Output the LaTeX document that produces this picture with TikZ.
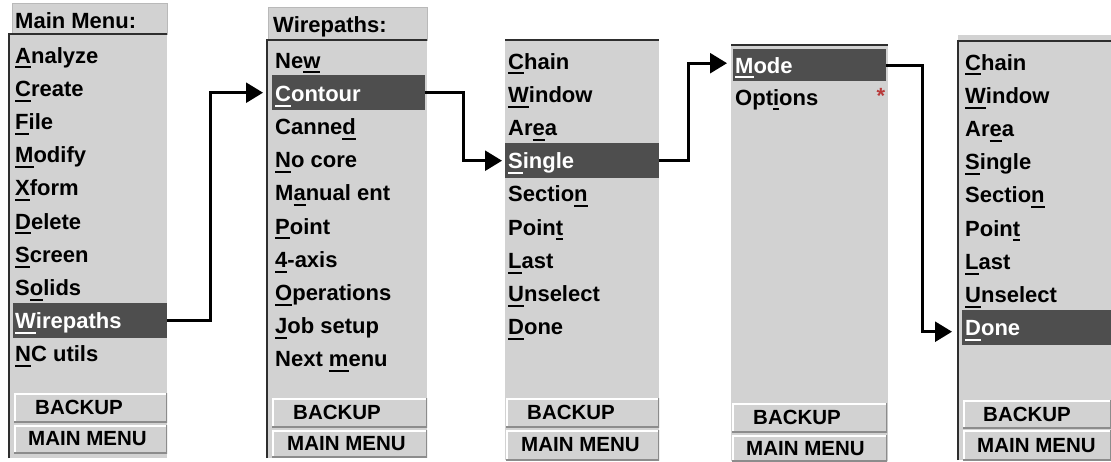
\documentclass[tikz,border=0pt]{standalone}
\usepackage{fontspec}
\setmainfont{Liberation Sans}
\usetikzlibrary{arrows.meta}
\definecolor{panel}{HTML}{D2D2D2}
\definecolor{hlc}{HTML}{4E4E4E}
\definecolor{edgec}{HTML}{2E2E2E}
\definecolor{bevdark}{HTML}{8C8C8C}
\definecolor{starc}{HTML}{B83A3A}
\newcommand\uln[1]{\setbox0\hbox{#1}\rlap{\rule[-5.4pt]{\wd0}{2.1pt}}\box0}
\begin{document}
\begin{tikzpicture}[x=1pt,y=-1pt,
  itm/.style={anchor=base west, inner sep=0pt, font=\bfseries\fontsize{22}{22}\selectfont, text=black},
  hitm/.style={itm, text=white},
  hl/.style={fill=hlc, draw=none, anchor=north west, inner sep=0pt},
  hdr/.style={fill=panel, draw=gray!55, line width=0.8pt, anchor=north west, inner sep=0pt},
  edgeline/.style={draw=edgec, line width=2.4pt},
  btn/.style={anchor=north west, inner sep=0pt, fill=panel,
    path picture={
      \draw[white, line width=3pt] (path picture bounding box.south west) -- (path picture bounding box.north west) -- (path picture bounding box.north east);
      \draw[bevdark, line width=3pt] (path picture bounding box.south west) -- (path picture bounding box.south east) -- (path picture bounding box.north east);}},
  btntxt/.style={anchor=base west, inner sep=0pt, font=\bfseries\fontsize{20.5}{20.5}\selectfont},
  link/.style={draw=black, line width=2.6pt, -{Triangle[length=17pt,width=20pt]}}
]
\useasboundingbox[fill=white] (0,0) rectangle (1111,461);

% ---------------- Menu 1
\fill[panel] (9,34) rectangle (167,458);
\node[hdr, minimum width=155, minimum height=31] (m1h) at (12,3) {};
\node[itm] (m1ht) at (15,28) {Main Menu:};
\draw[edgeline] (9,458) -- (9,34) -- (167,34);
\node[hl, minimum width=154, minimum height=35] (m1wire) at (13,303) {};
\foreach \i/\t in {0/{\uln{A}nalyze},1/{\uln{C}reate},2/{\uln{F}ile},3/{\uln{M}odify},4/{\uln{X}form},5/{\uln{D}elete},6/{\uln{S}creen},7/{S\uln{o}lids},9/{\uln{N}C utils}}
  \node[itm] (m1i\i) at (15,{63+33.2*\i}) {\t};
\node[hitm] (m1i8) at (15,{63+33.2*8}) {\uln{W}irepaths};
\node[btn, minimum width=153, minimum height=29] (m1b1) at (14,393) {};
\node[btn, minimum width=153, minimum height=28] (m1b2) at (14,425) {};
\node[btntxt] (m1b1t) at (35,414) {BACKUP};
\node[btntxt] (m1b2t) at (28,445) {MAIN MENU};

% ---------------- Menu 2
\fill[panel] (267,40) rectangle (427,458);
\node[hdr, minimum width=159, minimum height=33] (m2h) at (268,7) {};
\node[itm] (m2ht) at (273,32) {Wirepaths:};
\draw[edgeline] (267,458) -- (267,40) -- (427,40);
\node[hl, minimum width=153, minimum height=35] (m2contour) at (272,75) {};
\foreach \i/\t in {0/{Ne\uln{w}},2/{Canne\uln{d}},3/{\uln{N}o core},4/{M\uln{a}nual ent},5/{\uln{P}oint},6/{\uln{4}-axis},7/{\uln{O}perations},8/{\uln{J}ob setup},9/{Next \uln{m}enu}}
  \node[itm] (m2i\i) at (275,{68+33.2*\i}) {\t};
\node[hitm] (m2i1) at (275,{68+33.2*1}) {\uln{C}ontour};
\node[btn, minimum width=155, minimum height=29] (m2b1) at (272,398) {};
\node[btn, minimum width=155, minimum height=27] (m2b2) at (272,430) {};
\node[btntxt] (m2b1t) at (293,419) {BACKUP};
\node[btntxt] (m2b2t) at (287,450) {MAIN MENU};

% ---------------- Menu 3
\fill[panel] (505,40) rectangle (659,460);
\draw[edgeline] (505,40) -- (659,40);
\node[hl, minimum width=154, minimum height=35] (m3single) at (505,143) {};
\foreach \i/\t in {0/{\uln{C}hain},1/{\uln{W}indow},2/{Ar\uln{e}a},4/{Sectio\uln{n}},5/{Poin\uln{t}},6/{\uln{L}ast},7/{\uln{U}nselect},8/{\uln{D}one}}
  \node[itm] (m3i\i) at (508,{69+33.2*\i}) {\t};
\node[hitm] (m3i3) at (508,{69+33.2*3}) {\uln{S}ingle};
\node[btn, minimum width=153, minimum height=29] (m3b1) at (506,398) {};
\node[btn, minimum width=153, minimum height=30] (m3b2) at (506,430) {};
\node[btntxt] (m3b1t) at (527,419) {BACKUP};
\node[btntxt] (m3b2t) at (521,451) {MAIN MENU};

% ---------------- Menu 4
\fill[panel] (731,45) rectangle (888,461);
\draw[edgeline] (731,45) -- (888,45);
\node[hl, minimum width=153, minimum height=32] (m4mode) at (733,49) {};
\node[hitm] (m4i0) at (735,73) {\uln{M}ode};
\node[itm] (m4i1) at (735,105) {Opt\uln{i}ons};
\node[text=starc, inner sep=0pt, font=\bfseries\fontsize{22}{22}\selectfont] (m4star) at (881,96) {*};
\node[btn, minimum width=155, minimum height=29] (m4b1) at (732,403) {};
\node[btn, minimum width=155, minimum height=26] (m4b2) at (732,435) {};
\node[btntxt] (m4b1t) at (753,424) {BACKUP};
\node[btntxt] (m4b2t) at (746,455) {MAIN MENU};

% ---------------- Menu 5
\fill[panel] (958,35) rectangle (1111,460);
\draw[edgeline] (958,460) -- (958,41) -- (1111,41);
\node[hl, minimum width=149, minimum height=35] (m5done) at (962,310) {};
\foreach \i/\t in {0/{\uln{C}hain},1/{\uln{W}indow},2/{Ar\uln{e}a},3/{\uln{S}ingle},4/{Sectio\uln{n}},5/{Poin\uln{t}},6/{\uln{L}ast},7/{\uln{U}nselect}}
  \node[itm] (m5i\i) at (965,{70+33.2*\i}) {\t};
\node[hitm] (m5i8) at (965,{70+33.2*8}) {\uln{D}one};
\node[btn, minimum width=148, minimum height=28] (m5b1) at (963,400) {};
\node[btn, minimum width=148, minimum height=30] (m5b2) at (963,430) {};
\node[btntxt] (m5b1t) at (983,421) {BACKUP};
\node[btntxt] (m5b2t) at (977,452) {MAIN MENU};

% ---------------- Connectors
\draw[link] (m1wire.east) -- ++(43,0) |- ([xshift=-9pt]m2contour.west);
\draw[link] (m2contour.east) -- ++(38,0) |- ([xshift=-3pt]m3single.west);
\draw[link] (m3single.east) -- ++(29,0) |- ([xshift=-6pt,yshift=2pt]m4mode.west);
\draw[link] (m4mode.east) -- ++(36,0) |- ([xshift=-10pt,yshift=-4pt]m5done.west);
\end{tikzpicture}
\end{document}
